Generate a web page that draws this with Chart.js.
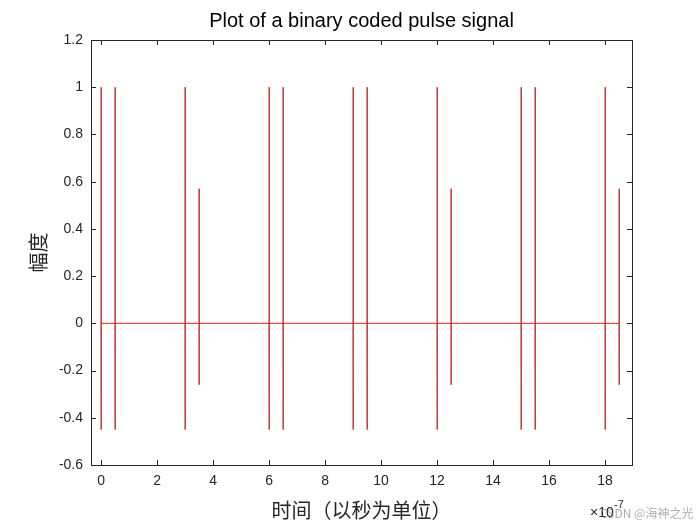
<!DOCTYPE html>
<html>
<head>
<meta charset="utf-8">
<script src="https://cdn.jsdelivr.net/npm/chart.js@4/dist/chart.umd.min.js"></script>
<style>
  body { margin: 0; background: #fff; }
  #wrap { width: 700px; height: 525px; }
</style>
</head>
<body>
<div id="wrap"><canvas id="c" width="700" height="525"></canvas></div>
<script>
// thời điểm xung (x 1e-7 s), đỉnh và đáy của mỗi xung
const pulseTimes = [0, 0.5, 3, 3.5, 6, 6.5, 9, 9.5, 12, 12.5, 15, 15.5, 18, 18.5];
const pulsePeaks = [1, 1, 1, 0.57, 1, 1, 1, 1, 1, 0.57, 1, 1, 1, 0.57];
const pulseTroughs = [-0.45, -0.45, -0.45, -0.26, -0.45, -0.45, -0.45, -0.45, -0.45, -0.26, -0.45, -0.45, -0.45, -0.26];
const xTicks = [0, 2, 4, 6, 8, 10, 12, 14, 16, 18];
const yTicks = [-0.6, -0.4, -0.2, 0, 0.2, 0.4, 0.6, 0.8, 1, 1.2];

const points = [];
for (let i = 0; i < pulseTimes.length; i++) {
  const t = pulseTimes[i];
  points.push({x: t, y: 0});
  points.push({x: t, y: pulsePeaks[i]});
  points.push({x: t, y: pulseTroughs[i]});
  points.push({x: t + 0.01, y: 0});
}

const FONT = 'Arial, "Liberation Sans", sans-serif';
const CJK = '"Noto Sans CJK SC", sans-serif';

// vẽ khung, vạch chia và chữ kiểu MATLAB
const matlabBox = {
  id: 'matlabBox',
  afterDraw(chart) {
    const {ctx, chartArea: a, scales} = chart;
    ctx.save();
    ctx.strokeStyle = '#262626';
    ctx.lineWidth = 1;
    ctx.strokeRect(a.left + 0.5, a.top + 0.5, a.right - a.left, a.bottom - a.top);
    ctx.beginPath();
    xTicks.forEach(v => {
      const px = Math.round(scales.x.getPixelForValue(v)) + 0.5;
      ctx.moveTo(px, a.bottom); ctx.lineTo(px, a.bottom - 5);
      ctx.moveTo(px, a.top); ctx.lineTo(px, a.top + 5);
    });
    yTicks.forEach(v => {
      const py = Math.round(scales.y.getPixelForValue(v)) + 0.5;
      ctx.moveTo(a.left, py); ctx.lineTo(a.left + 5, py);
      ctx.moveTo(a.right, py); ctx.lineTo(a.right - 5, py);
    });
    ctx.stroke();
    ctx.fillStyle = '#000';
    ctx.textAlign = 'center';
    ctx.textBaseline = 'middle';
    ctx.font = '20px ' + FONT;
    ctx.fillText('Plot of a binary coded pulse signal', (a.left + a.right) / 2, 21);
    ctx.fillStyle = '#262626';
    ctx.font = '20px ' + CJK;
    ctx.fillText('时间（以秒为单位）', (a.left + a.right) / 2, 510);
    ctx.save();
    ctx.translate(38, (a.top + a.bottom) / 2);
    ctx.rotate(-Math.PI / 2);
    ctx.fillText('幅度', 0, 0);
    ctx.restore();
    ctx.font = '14px ' + FONT;
    ctx.textAlign = 'left';
    ctx.fillText('\u00d710', 590, 513);
    ctx.font = '11px ' + FONT;
    ctx.fillText('-7', 614, 505);
    ctx.fillStyle = 'rgba(120,120,120,0.6)';
    ctx.font = '12px ' + CJK;
    ctx.fillText('CSDN @海神之光', 600, 513);
    ctx.restore();
  }
};

new Chart(document.getElementById('c'), {
  type: 'line',
  data: {
    datasets: [{
      data: points,
      borderColor: '#e02020',
      borderWidth: 1,
      pointRadius: 0,
      tension: 0,
      fill: false
    }]
  },
  options: {
    responsive: false,
    animation: false,
    layout: { padding: { top: 40, right: 68, left: 0, bottom: 0 } },
    plugins: { legend: { display: false }, tooltip: { enabled: false } },
    scales: {
      x: {
        type: 'linear', min: -0.36, max: 18.96,
        afterBuildTicks: s => { s.ticks = xTicks.map(v => ({value: v})); },
        afterFit: s => { s.height = 60; },
        grid: { display: false, drawTicks: false },
        border: { display: false },
        ticks: { color: '#262626', font: { size: 14, family: FONT }, padding: 8, maxRotation: 0 }
      },
      y: {
        min: -0.6, max: 1.2,
        afterBuildTicks: s => { s.ticks = yTicks.map(v => ({value: v})); },
        afterFit: s => { s.width = 91; },
        grid: { display: false, drawTicks: false },
        border: { display: false },
        ticks: { color: '#262626', font: { size: 14, family: FONT }, padding: 8,
          callback: v => String(Math.round(v * 10) / 10) }
      }
    }
  },
  plugins: [matlabBox]
});
</script>
</body>
</html>
